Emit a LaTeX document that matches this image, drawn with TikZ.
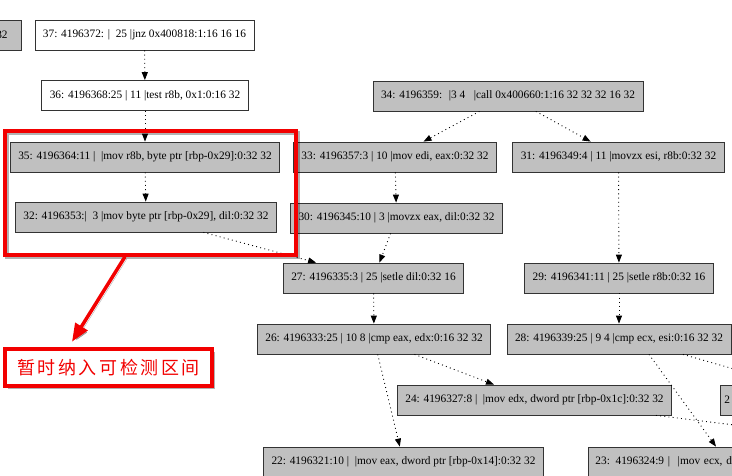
\documentclass[tikz,border=0pt]{standalone}
\usepackage{fontspec}
\setmainfont{Liberation Serif}
\newfontfamily\cjk[LetterSpace=14]{Noto Sans CJK SC}
\usetikzlibrary{arrows.meta}
\definecolor{nodegrey}{HTML}{C0C0C0}
\definecolor{markred}{HTML}{F20000}

\begin{document}
\begin{tikzpicture}[
  x=1pt, y=-1pt,
  box/.style={rectangle, draw=black!80, line width=0.8pt, minimum height=30pt, inner xsep=8pt, font=\fontsize{11.35}{13}\selectfont},
  wbox/.style={box, fill=white},
  gbox/.style={box, fill=nodegrey},
  flow/.style={-{Triangle[length=8pt,width=6pt]}, line width=0.9pt, dash pattern=on 0.9pt off 3.3pt},
  hlbox/.style={draw=markred, line width=3.5pt, minimum width=291pt, minimum height=124pt,
    preaction={draw=black, opacity=0.3, line width=3.5pt, transform canvas={xshift=2pt,yshift=-2pt}}},
  notebox/.style={draw=markred, fill=white, line width=3.5pt, minimum width=207pt, minimum height=37pt,
    text=markred, font=\fontsize{18}{20}\selectfont,
    preaction={fill=black, opacity=0.3, transform canvas={xshift=2.5pt,yshift=-2.5pt}}},
  callout/.style={draw=markred, line width=3.5pt, -{Triangle[length=18pt,width=14pt]},
    preaction={draw=black, opacity=0.3, transform canvas={xshift=2pt,yshift=-2pt}}}
]
\useasboundingbox (0,0) rectangle (732,476);
\clip (0,0) rectangle (732,476);

\node[gbox, anchor=east, inner xsep=14pt] (n32a) at (22,35) {32};
\node[wbox] (n37) at (144.5,35) {37: 4196372: |~ 25 |jnz 0x400818:1:16 16 16};
\node[wbox] (n36) at (145,95.5) {36: 4196368:25 | 11 |test r8b, 0x1:0:16 32};
\node[gbox] (n35) at (145,157) {35: 4196364:11 |~ |mov r8b, byte ptr [rbp-0x29]:0:32 32};
\node[gbox] (n32) at (146,217) {32: 4196353:|~ 3 |mov byte ptr [rbp-0x29], dil:0:32 32};
\node[gbox] (n34) at (508,96) {34: 4196359:~ |3 4~~ |call 0x400660:1:16 32 32 32 16 32};
\node[gbox] (n33) at (395,157) {33: 4196357:3 | 10 |mov edi, eax:0:32 32};
\node[gbox] (n31) at (618.5,157) {31: 4196349:4 | 11 |movzx esi, r8b:0:32 32};
\node[gbox] (n30) at (396.5,218) {30: 4196345:10 | 3 |movzx eax, dil:0:32 32};
\node[gbox] (n27) at (373.5,278) {27: 4196335:3 | 25 |setle dil:0:32 16};
\node[gbox] (n29) at (619,278) {29: 4196341:11 | 25 |setle r8b:0:32 16};
\node[gbox] (n26) at (374,339) {26: 4196333:25 | 10 8 |cmp eax, edx:0:16 32 32};
\node[gbox] (n28) at (619,339) {28: 4196339:25 | 9 4 |cmp ecx, esi:0:16 32 32};
\node[gbox] (n24) at (534.5,400) {24: 4196327:8 |~ |mov edx, dword ptr [rbp-0x1c]:0:32 32};
\node[gbox, anchor=west, inner xsep=4pt, text width=30pt, align=left] (n2x) at (720,400) {2};
\node[gbox] (n22) at (403.5,462) {22: 4196321:10 |~ |mov eax, dword ptr [rbp-0x14]:0:32 32};
\node[gbox, anchor=west, inner xsep=7pt, text width=190pt, align=left] (n23) at (588,462) {23: 4196324:9 |~ |mov ecx, dw};

\coordinate (offa) at (800,388);
\coordinate (offb) at (800,433);

\draw[flow] (n37) -- (n36);
\draw[flow] (n36) -- (n35);
\draw[flow] (n35) -- (n32);
\draw[flow] (n32) -- (n27);
\draw[flow] (n34) -- (n33);
\draw[flow] (n34) -- (n31);
\draw[flow] (n33) -- (n30);
\draw[flow] (n30) -- (n27);
\draw[flow] (n31) -- (n29);
\draw[flow] (n27) -- (n26);
\draw[flow] (n29) -- (n28);
\draw[flow] (n26) -- (n24);
\draw[flow] (n26) -- (n22);
\draw[flow] ([xshift=30pt]n28.south) -- ([xshift=128pt]n23.north west);
\draw[flow] ([xshift=64pt]n28.south) -- (offa);
\draw[flow] ([xshift=121.5pt]n24.south) -- (offb);

% marked region
\node[hlbox] (hl) at (150.5,193) {};
\node[notebox] (note) at (108.5,367.5) {\cjk 暂时纳入可检测区间};
\draw[callout] ([xshift=-25.5pt]hl.south) -- ([xshift=-36.5pt,yshift=5.5pt]note.north);
\end{tikzpicture}
\end{document}
